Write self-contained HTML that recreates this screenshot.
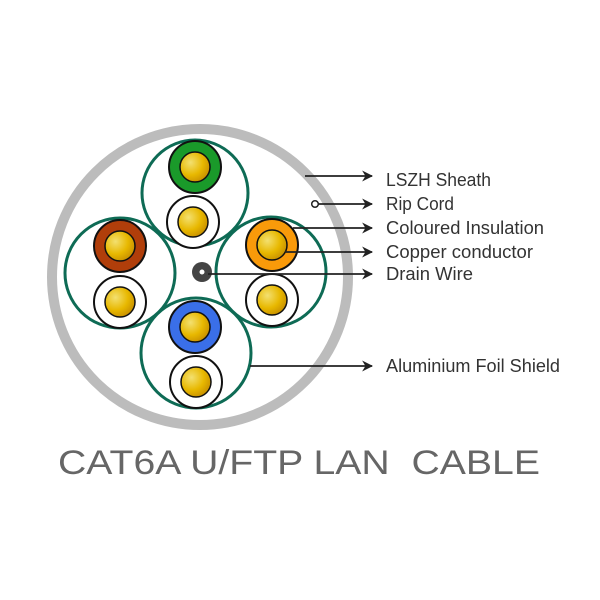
<!DOCTYPE html>
<html><head><meta charset="utf-8"><style>
html,body{margin:0;padding:0;background:#fff;width:600px;height:600px;overflow:hidden}
</style></head><body>
<svg width="600" height="600" xmlns="http://www.w3.org/2000/svg">
<defs>
<radialGradient id="cu" cx="0.35" cy="0.35" r="0.7">
<stop offset="0" stop-color="#f3e070"/><stop offset="0.6" stop-color="#e8b800"/><stop offset="1" stop-color="#c89000"/>
</radialGradient>
<marker id="ar" viewBox="0 0 10 10" refX="9" refY="5" markerWidth="11" markerHeight="11" orient="auto" markerUnits="userSpaceOnUse">
<path d="M0,0 L10,5 L0,10 L3,5 z" fill="#222"/></marker>
</defs>
<circle cx="200" cy="277" r="148" fill="#fff" stroke="#bcbcbc" stroke-width="10"/>
<g fill="#fff" stroke="#0e6b55" stroke-width="3">
<circle cx="195" cy="193" r="53"/>
<circle cx="120" cy="273" r="55"/>
<circle cx="271" cy="272" r="55"/>
<circle cx="196" cy="353" r="55"/>
</g>
<g stroke="#111" stroke-width="2">
<circle cx="195" cy="167" r="26" fill="#1a9a2a"/>
<circle cx="193" cy="222" r="26" fill="#fff"/>
<circle cx="120" cy="246" r="26" fill="#b03e0a"/>
<circle cx="120" cy="302" r="26" fill="#fff"/>
<circle cx="272" cy="245" r="26" fill="#f99a0a"/>
<circle cx="272" cy="300" r="26" fill="#fff"/>
<circle cx="195" cy="327" r="26" fill="#3a6fe8"/>
<circle cx="196" cy="382" r="26" fill="#fff"/>
</g>
<g stroke="#111" stroke-width="1.5" fill="url(#cu)">
<circle cx="195" cy="167" r="15"/>
<circle cx="193" cy="222" r="15"/>
<circle cx="120" cy="246" r="15"/>
<circle cx="120" cy="302" r="15"/>
<circle cx="272" cy="245" r="15"/>
<circle cx="272" cy="300" r="15"/>
<circle cx="195" cy="327" r="15"/>
<circle cx="196" cy="382" r="15"/>
</g>
<circle cx="202" cy="272" r="10" fill="#444"/>
<circle cx="202" cy="272" r="2.5" fill="#fff"/>
<g stroke="#222" stroke-width="1.8" marker-end="url(#ar)">
<line x1="305" y1="176" x2="372" y2="176"/>
<line x1="318" y1="204" x2="372" y2="204"/>
<line x1="293" y1="228" x2="372" y2="228"/>
<line x1="285" y1="252" x2="372" y2="252"/>
<line x1="208" y1="274" x2="372" y2="274"/>
<line x1="250" y1="366" x2="372" y2="366"/>
</g>
<circle cx="315" cy="204" r="3.3" fill="#fff" stroke="#222" stroke-width="1.5"/>
<g font-family="Liberation Sans, sans-serif" font-size="18" fill="#333">
<text x="386" y="186" textLength="105" lengthAdjust="spacingAndGlyphs">LSZH Sheath</text>
<text x="386" y="210" textLength="68" lengthAdjust="spacingAndGlyphs">Rip Cord</text>
<text x="386" y="234" textLength="158" lengthAdjust="spacingAndGlyphs">Coloured Insulation</text>
<text x="386" y="258" textLength="147" lengthAdjust="spacingAndGlyphs">Copper conductor</text>
<text x="386" y="280" textLength="87" lengthAdjust="spacingAndGlyphs">Drain Wire</text>
<text x="386" y="372" textLength="174" lengthAdjust="spacingAndGlyphs">Aluminium Foil Shield</text>
</g>
<text x="299" y="474" text-anchor="middle" font-family="Liberation Sans, sans-serif" font-size="34" fill="#666" textLength="482" lengthAdjust="spacingAndGlyphs" xml:space="preserve">CAT6A U/FTP LAN  CABLE</text>
</svg>
</body></html>
